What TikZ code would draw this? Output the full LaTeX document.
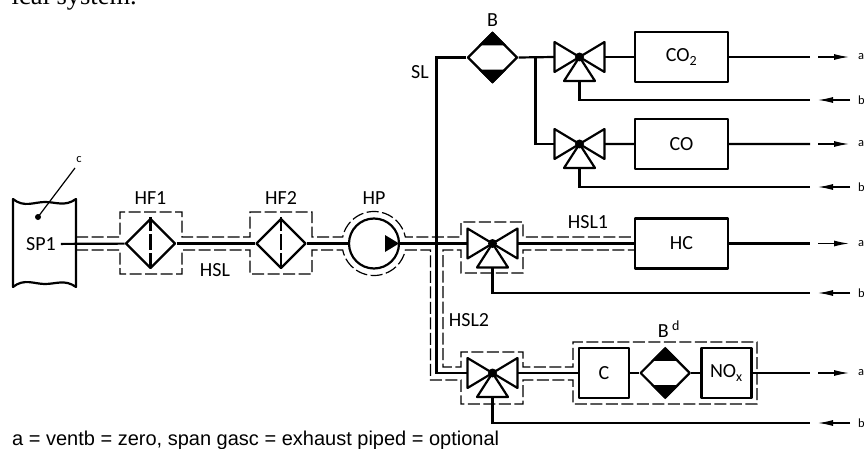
\documentclass[tikz,border=0pt]{standalone}
\usepackage{fontspec}
\setmainfont{Carlito}
\newfontfamily\notefont{Liberation Sans}
\newfontfamily\bodyfont{Liberation Serif}
\usetikzlibrary{shapes.geometric, arrows.meta, positioning, calc}
\newcommand{\bedfill}[1]{%
  \fill (#1.north) -- ($(#1.north)+(14,14)$) -- ($(#1.north)+(-14,14)$) -- cycle;
  \fill (#1.south) -- ($(#1.south)+(14,-14)$) -- ($(#1.south)+(-14,-14)$) -- cycle;}

\begin{document}
\begin{tikzpicture}[
  x=1pt, y=-1pt,
  part/.style={draw, line width=2.2pt, line join=round},
  pipe/.style={line width=2.2pt},
  analyser/.style={part, rectangle, minimum width=93pt, minimum height=50pt, font=\fontsize{20}{20}\selectfont},
  cell/.style={part, rectangle, minimum size=50pt, font=\fontsize{20}{20}\selectfont},
  bed/.style={part, diamond, minimum size=50pt, inner sep=0pt},
  pump/.style={part, circle, minimum size=50pt, inner sep=0pt},
  tag/.style={font=\fontsize{20}{20}\selectfont, inner sep=0pt},
  endtag/.style={font=\fontsize{12.5}{13}\selectfont, inner sep=0pt},
  heated/.style={line width=1.2pt, dash pattern=on 12pt off 3.5pt},
  flow/.style={line width=1.2pt, -{Latex[length=15pt,width=6pt]}},
  pics/valve/.style={code={
    \draw[part] (-25,-15) -- (25,15) -- (25,-15) -- (-25,15) -- cycle;
    \draw[part] (0,0) -- (15.5,24) -- (-15.5,24) -- cycle;
    \fill (0,0) circle (4.5pt);
    \coordinate (-west) at (-25,0);
    \coordinate (-east) at (25,0);
    \coordinate (-south) at (0,24);
  }}
]
  \useasboundingbox (0,0) rectangle (864,449);

  % Nodes
  \node[tag, outer sep=5pt] (sp1) at (41,244) {SP1};
  \node[bed] (hf1) at (150.5,243.5) {};
  \node[bed] (hf2) at (281,243.5) {};
  \node[pump] (hp) at (374,243.5) {};
  \node[bed] (bd) at (492.5,57.5) {};
  \node[analyser] (co2) at (681.5,57) {CO\textsubscript{2}};
  \node[analyser, below=34.8pt of co2] (co) {CO};
  \node[analyser] (hc) at (681.5,243.5) {HC};
  \node[cell] (cc) at (604,373) {C};
  \node[bed, right=9pt of cc] (bd2) {};
  \node[cell, right=9pt of bd2] (nox) {NO\textsubscript{x}};
  \coordinate (sl) at (436.5,243.5);
  \coordinate (tee) at (535.5,57);
  \pic (vco2) at (579.5,57) {valve};
  \pic (vco) at (579.5,144) {valve};
  \pic (vhc) at (492.5,243.5) {valve};
  \pic (vnox) at (492.5,373) {valve};

  % Labels
  \node[tag, above=13pt of hf1] (hf1t) {HF1};
  \node[tag, above=13pt of hf2] (hf2t) {HF2};
  \node[tag, above=13pt of hp] (hpt) {HP};
  \node[tag, above=5pt of bd] (bdt) {B};
  \node[tag] (hsl) at (215,270) {HSL};
  \node[tag] (slt) at (420,72) {SL};
  \node[tag] (hsl1) at (588,222) {HSL1};
  \node[tag] (hsl2) at (469,320) {HSL2};
  \node[tag] (bd2t) at (669,329) {B\,\textsuperscript{d}};
  \node[endtag] (ct) at (79,160) {c};
  \node[anchor=base west, inner sep=0pt, font=\notefont\fontsize{20}{20}\selectfont] (note) at (12,445) {a = ventb = zero, span gasc = exhaust piped = optional};
  \node[anchor=base east, inner sep=0pt, font=\bodyfont\fontsize{26.5}{27}\selectfont] (body) at (137,5) {ical system.};

  % Sample point
  \draw[part] (13,199) .. controls (24,208) and (34,202) .. (45,202) .. controls (56,202) and (65,207) .. (76,199)
    -- (76,287) .. controls (65,279) and (56,284) .. (45,284) .. controls (34,284) and (24,278) .. (13,287) -- cycle;
  \fill (38,217) circle (3pt) coordinate (probe);
  \coordinate (ctend) at (75,168);
  \draw[line width=1.2pt] (probe) -- (ctend);

  % Heated housing
  \draw[heated] (76,237) -- (120,237) -- (120,212) -- (182,212) -- (182,237) -- (250,237) -- (250,212) -- (312,212)
    -- (312,237) -- (342.7,237) arc[start angle=191.7, end angle=348.3, radius=32] -- (461,237) -- (461,222) -- (523,222)
    -- (523,237) -- (635,237);
  \draw[heated] (76,250) -- (120,250) -- (120,274) -- (182,274) -- (182,250) -- (250,250) -- (250,274) -- (312,274)
    -- (312,250) -- (342.7,250) arc[start angle=168.3, end angle=11.7, radius=32] -- (430.5,250) -- (430.5,380) -- (461,380)
    -- (461,404) -- (523,404) -- (523,380) -- (573,380) -- (573,404) -- (757,404) -- (757,342) -- (573,342) -- (573,367)
    -- (523,367) -- (523,352) -- (461,352) -- (461,367) -- (443,367) -- (443,250) -- (461,250) -- (461,273) -- (523,273)
    -- (523,250) -- (635,250);

  % Pipes
  \draw[pipe] (sp1) -- (hf1);
  \draw[pipe] (hf1) -- (hf2);
  \draw[pipe] (hf2) -- (hp);
  \draw[pipe] (hp) -- (vhc-west);
  \draw[pipe] (bd.west) -| (sl) |- (vnox-west);
  \draw[pipe] (bd.east) -- (vco2-west);
  \draw[pipe] (tee) |- (vco-west);
  \draw[pipe] (vco2-east) -- (co2);
  \draw[pipe] (vco-east) -- (co);
  \draw[pipe] (vhc-east) -- (hc);
  \draw[pipe] (vnox-east) -- (cc);
  \draw[pipe] (cc) -- (bd2);
  \draw[pipe] (bd2) -- (nox);

  % Symbols inside parts
  \draw[line width=2.2pt, dash pattern=on 14pt off 3pt on 16pt off 3pt on 14pt] (hf1.north) -- (hf1.south);
  \draw[line width=2.2pt, dash pattern=on 14pt off 3pt on 16pt off 3pt on 14pt] (hf2.north) -- (hf2.south);
  \fill (385,235) -- (399,243.5) -- (385,252) -- cycle;
  \bedfill{bd}
  \bedfill{bd2}

  % Outlets
  \coordinate (out1) at (810,57);
  \coordinate (ret1) at (810,100);
  \coordinate (out2) at (810,144);
  \coordinate (ret2) at (810,187);
  \coordinate (out3) at (810,243.5);
  \coordinate (ret3) at (810,293);
  \coordinate (out4) at (810,373);
  \coordinate (ret4) at (810,423);
  \draw[pipe] (co2) -- (out1);
  \draw[pipe] (co) -- (out2);
  \draw[pipe] (hc) -- (out3);
  \draw[pipe] (nox) -- (out4);
  \draw[pipe] (vco2-south) |- (ret1);
  \draw[pipe] (vco-south) |- (ret2);
  \draw[pipe] (vhc-south) |- (ret3);
  \draw[pipe] (vnox-south) |- (ret4);

  % Flow marks
  \node[endtag, right=48pt of out1] (a1) {a};
  \node[endtag, right=48pt of ret1] (b1) {b};
  \node[endtag, right=48pt of out2] (a2) {a};
  \node[endtag, right=48pt of ret2] (b2) {b};
  \node[endtag, right=48pt of out3] (a3) {a};
  \node[endtag, right=48pt of ret3] (b3) {b};
  \node[endtag, right=48pt of out4] (a4) {a};
  \node[endtag, right=48pt of ret4] (b4) {b};
  \draw[flow] ($(out1)+(8,0)$) -- ($(a1.west)+(-9,0)$);
  \draw[flow] ($(b1.west)+(-8,0)$) -- ($(ret1)+(8,0)$);
  \draw[flow] ($(out2)+(8,0)$) -- ($(a2.west)+(-9,0)$);
  \draw[flow] ($(b2.west)+(-8,0)$) -- ($(ret2)+(8,0)$);
  \draw[flow] ($(out3)+(8,0)$) -- ($(a3.west)+(-9,0)$);
  \draw[flow] ($(b3.west)+(-8,0)$) -- ($(ret3)+(8,0)$);
  \draw[flow] ($(out4)+(8,0)$) -- ($(a4.west)+(-9,0)$);
  \draw[flow] ($(b4.west)+(-8,0)$) -- ($(ret4)+(8,0)$);
\end{tikzpicture}
\end{document}
